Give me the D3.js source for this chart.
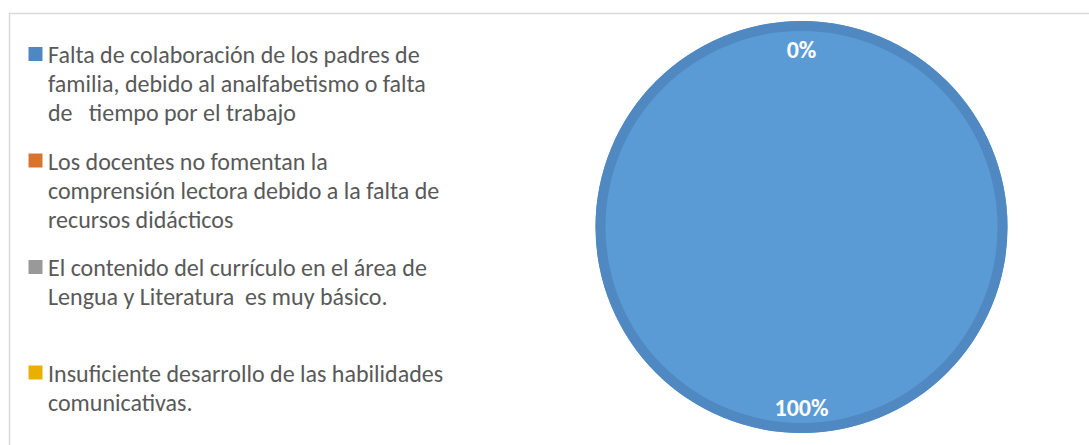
<!DOCTYPE html>
<html>
<head>
<meta charset="utf-8">
<script src="https://cdn.jsdelivr.net/npm/d3@7"></script>
<style>
  html, body { margin: 0; padding: 0; background: #fff; }
  svg { display: block; font-family: Carlito, Lato, "Open Sans", sans-serif; }
</style>
</head>
<body>
<div id="chart"></div>
<script>
// categories, each already broken into the lines used in the legend
const CATEGORIES = [
  ['Falta de colaboración de los padres de', 'familia, debido al analfabetismo o falta', 'de   tiempo por el trabajo'],
  ['Los docentes no fomentan la', 'comprensión lectora debido a la falta de', 'recursos didácticos'],
  ['El contenido del currículo en el área de', 'Lengua y Literatura  es muy básico.'],
  ['Insuficiente desarrollo de las habilidades', 'comunicativas.']
];
const VALUES = [100, 0, 0, 0];
const FILLS  = ['#5b9bd5', '#ed7d31', '#a5a5a5', '#ffc000'];
const KEYS   = ['#4f87c3', '#d9742f', '#999999', '#e9b000'];
const RIMS   = ['#5089c1', '#d06d2a', '#949494', '#e0aa00'];

const W = 1089, H = 445;
const cx = 801.5, cy = 227, R = 206, RIM = 10;

const svg = d3.select('#chart').append('svg').attr('width', W).attr('height', H);

// chart frame (only top/left edges are inside the picture)
svg.append('path')
  .attr('d', `M9.5,${H} V13.5 H${W}`)
  .attr('fill', 'none').attr('stroke', '#d9d9d9').attr('stroke-width', 1.5);

// ---- legend
const legendTop = [54, 160.5, 267, 372.5];
const lineH = 29;
const lg = svg.append('g');
CATEGORIES.forEach((lines, i) => {
  const g = lg.append('g').attr('transform', `translate(0,${legendTop[i]})`);
  g.append('rect').attr('x', 28.5).attr('y', -7).attr('width', 14).attr('height', 14)
    .attr('fill', KEYS[i]);
  const t = g.append('text')
    .attr('x', 48).attr('y', 0)
    .attr('font-size', 24).attr('fill', '#595959')
    .attr('dominant-baseline', 'central')
    .style('white-space', 'pre');
  t.selectAll('tspan').data(lines).join('tspan')
    .attr('x', 48).attr('dy', (d, j) => j === 0 ? 0 : lineH)
    .text(d => d);
});

// ---- pie
const pie = d3.pie().sort(null).value(d => d)(VALUES);
const arc = d3.arc().innerRadius(0).outerRadius(R);
const rim = d3.arc().innerRadius(R - RIM).outerRadius(R);
const lblArc = d3.arc().innerRadius(179).outerRadius(179);

const pg = svg.append('g').attr('transform', `translate(${cx},${cy})`);
pg.selectAll('path.slice').data(pie.filter(d => d.value > 0)).join('path')
  .attr('class', 'slice')
  .attr('d', arc)
  .attr('fill', d => FILLS[d.index]);
pg.selectAll('path.rim').data(pie.filter(d => d.value > 0)).join('path')
  .attr('class', 'rim')
  .attr('d', rim)
  .attr('fill', d => RIMS[d.index]);

const total = d3.sum(VALUES);
// zero slices all sit at the top and overlap, so one label per position
const labels = [];
pie.forEach(d => {
  const [x, y] = lblArc.centroid(d);
  if (!labels.some(l => Math.abs(l.x - x) < 1 && Math.abs(l.y - y) < 1)) {
    labels.push({ x, y, text: d3.format('.0%')(d.value / total) });
  }
});
pg.selectAll('text.pct').data(labels).join('text')
  .attr('class', 'pct')
  .attr('x', d => d.x).attr('y', d => d.y + 1.5)
  .attr('text-anchor', 'middle').attr('dominant-baseline', 'central')
  .attr('font-size', 24).attr('font-weight', 700).attr('fill', '#fff')
  .text(d => d.text);
</script>
</body>
</html>
